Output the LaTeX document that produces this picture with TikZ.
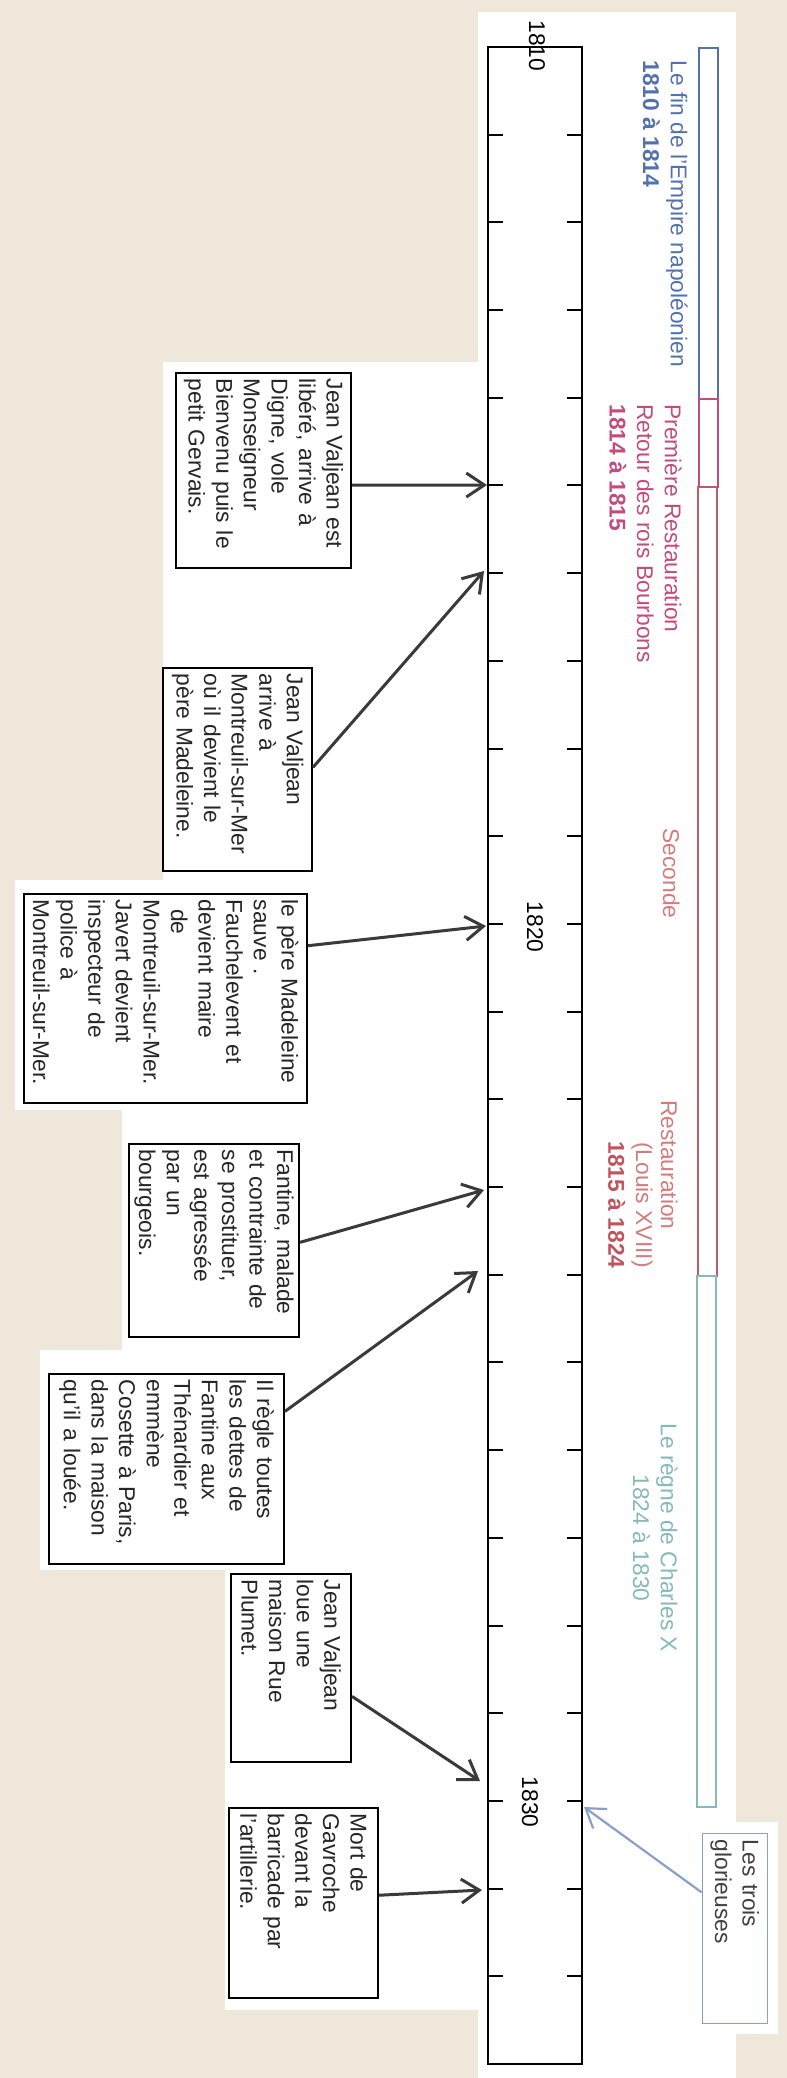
\documentclass[tikz,border=0pt]{standalone}
\usepackage{fontspec}
\setmainfont{Liberation Sans}
\usetikzlibrary{arrows.meta,calc}
\definecolor{paper}{HTML}{EFE7DA}
\definecolor{empire}{HTML}{5272AE}
\definecolor{premiere}{HTML}{C24C7C}
\definecolor{seconde}{HTML}{D47C7C}
\definecolor{secondebar}{HTML}{BA5C6A}
\definecolor{charles}{HTML}{86B8BC}
\definecolor{glorieuses}{HTML}{8A9FCB}
\definecolor{ink}{HTML}{3A3A3A}
\begin{document}
\begin{tikzpicture}[x=0.5pt,y=-0.5pt,
    every node/.style={font=\fontsize{11.4}{13.8}\selectfont},
    event/.style={draw=black,line width=0.9pt,fill=white,rotate=-90,anchor=north west,
      align=left,inner xsep=3pt,inner ysep=0pt,text=black!85},
    yearlabel/.style={rotate=-90,inner sep=0pt},
    periodlabel/.style={rotate=-90,inner sep=0pt,anchor=north west,align=left},
    pointer/.style={draw=ink,line width=1.5pt,-{Straight Barb[length=9pt,width=12pt]}}]
  \fill[paper] (0,0) rectangle (787,2078);
  \fill[white] (478,12) rectangle (736,2078);
  \fill[white] (700,1822) rectangle (778,2034);
  \fill[white] (163,362) rectangle (483,880);
  \fill[white] (15,880) rectangle (483,1110);
  \fill[white] (122,1110) rectangle (483,1350);
  \fill[white] (40,1350) rectangle (483,1570);
  \fill[white] (225,1570) rectangle (483,2010);
  \draw[line width=1pt,fill=white] (488,47) rectangle (582,2064);
  \draw[line width=1pt]
    (488,135) -- ++(15,0) (567,135) -- ++(15,0)
    (488,222) -- ++(15,0) (567,222) -- ++(15,0)
    (488,310) -- ++(15,0) (567,310) -- ++(15,0)
    (488,398) -- ++(15,0) (567,398) -- ++(15,0)
    (488,485) -- ++(15,0) (567,485) -- ++(15,0)
    (488,573) -- ++(15,0) (567,573) -- ++(15,0)
    (488,661) -- ++(15,0) (567,661) -- ++(15,0)
    (488,749) -- ++(15,0) (567,749) -- ++(15,0)
    (488,836) -- ++(15,0) (567,836) -- ++(15,0)
    (488,924) -- ++(15,0) (567,924) -- ++(15,0)
    (488,1012) -- ++(15,0) (567,1012) -- ++(15,0)
    (488,1099) -- ++(15,0) (567,1099) -- ++(15,0)
    (488,1187) -- ++(15,0) (567,1187) -- ++(15,0)
    (488,1275) -- ++(15,0) (567,1275) -- ++(15,0)
    (488,1362) -- ++(15,0) (567,1362) -- ++(15,0)
    (488,1450) -- ++(15,0) (567,1450) -- ++(15,0)
    (488,1538) -- ++(15,0) (567,1538) -- ++(15,0)
    (488,1626) -- ++(15,0) (567,1626) -- ++(15,0)
    (488,1713) -- ++(15,0) (567,1713) -- ++(15,0)
    (488,1801) -- ++(15,0) (567,1801) -- ++(15,0)
    (488,1889) -- ++(15,0) (567,1889) -- ++(15,0)
    (488,1976) -- ++(15,0) (567,1976) -- ++(15,0);
  \node[yearlabel] (y1810) at (537,46) {1810};
  \node[yearlabel] (y1820) at (535,927) {1820};
  \node[yearlabel] (y1830) at (530,1802) {1830};
  \draw[empire,line width=1pt] (699,48) rectangle (718,399);
  \draw[premiere,line width=1pt] (699,399) rectangle (718,487);
  \draw[secondebar,line width=1pt] (698,487) rectangle (717,1276);
  \draw[charles,line width=1pt] (697,1276) rectangle (716,1807);
  \node[periodlabel,text=empire] (empire) at (688,60)
    {Le fin de l'Empire napoléonien\\\textbf{1810 à 1814}};
  \node[periodlabel,text=premiere] (premiere) at (682,404)
    {Première Restauration\\Retour des rois Bourbons\\\textbf{1814 à 1815}};
  \node[periodlabel,text=seconde] (seconde) at (680,828) {Seconde};
  \node[periodlabel,text=seconde] (restauration) at (678,1100) {Restauration};
  \node[rotate=-90,inner sep=0pt,anchor=north,align=center,text=seconde] (louis) at (653,1205)
    {(Louis XVIII)\\\textbf{\color{secondebar!90!red}1815 à 1824}};
  \node[rotate=-90,inner sep=0pt,anchor=north,align=center,text=charles] (charlesx) at (678,1538)
    {Le règne de Charles X\\1824 à 1830};
  \node[event,minimum width=97.5pt,minimum height=87.5pt,text width=91.5pt] (digne) at (352,372)
    {Jean Valjean est\\libéré, arrive à\\Digne, vole\\Monseigneur\\Bienvenu puis le\\petit Gervais.};
  \node[event,minimum width=101.5pt,minimum height=74.5pt,text width=95.5pt] (montreuil) at (313,667)
    {Jean Valjean\\arrive à\\Montreuil-sur-Mer\\où il devient le\\père Madeleine.};
  \node[event,minimum width=104.5pt,minimum height=141.5pt,text width=98.5pt] (maire) at (308,893)
    {le père Madeleine\\sauve .\\Fauchelevent et\\devient maire\\\hspace{0.4em}de\\Montreuil-sur-Mer.\\Javert devient\\inspecteur de\\police à\\Montreuil-sur-Mer.};
  \node[event,minimum width=96.5pt,minimum height=85pt,text width=90.5pt] (fantine) at (300,1143)
    {Fantine, malade\\et contrainte de\\se prostituer,\\est agressée\\par un\\bourgeois.};
  \node[event,minimum width=95pt,minimum height=117.5pt,text width=89pt] (dettes) at (285,1373)
    {Il règle toutes\\les dettes de\\Fantine aux\\Thénardier et\\emmène\\Cosette à Paris,\\dans la maison\\qu'il a louée.};
  \node[event,minimum width=94pt,minimum height=60pt,text width=88pt] (plumet) at (352,1573)
    {Jean Valjean\\loue une\\maison Rue\\Plumet.};
  \node[event,minimum width=95pt,minimum height=74.5pt,text width=89pt] (gavroche) at (379,1807)
    {Mort de\\Gavroche\\devant la\\barricade par\\l'artillerie.};
  \node[event,draw=glorieuses,line width=0.7pt,text=black!75,minimum width=95pt,minimum height=32.5pt,text width=89pt] (trois) at (768,1833)
    {Les trois\\glorieuses};
  \coordinate (t1814) at (487,485);
  \coordinate (t1815) at (484,571);
  \coordinate (t1820) at (486,926);
  \coordinate (t1823) at (484,1190);
  \coordinate (t1824) at (478,1271);
  \coordinate (t1830) at (480,1781);
  \coordinate (t1831) at (482,1890);
  \coordinate (g1830) at (584,1807);
  \begin{scope}[pointer]
    \draw ($(digne.north west)!0.575!(digne.north east)$) to (t1814);
    \draw ($(montreuil.north west)!0.49!(montreuil.north east)$) to (t1815);
    \draw ($(maire.north west)!0.25!(maire.north east)$) to (t1820);
    \draw ($(fantine.north west)!0.51!(fantine.north east)$) to (t1823);
    \draw ($(dettes.north west)!0.2!(dettes.north east)$) to (t1824);
    \draw ($(plumet.north west)!0.65!(plumet.north east)$) to (t1830);
    \draw ($(gavroche.north west)!0.46!(gavroche.north east)$) to (t1831);
    \draw[glorieuses,line width=1.1pt] ($(trois.south west)!0.31!(trois.south east)$) to (g1830);
  \end{scope}
\end{tikzpicture}
\end{document}
